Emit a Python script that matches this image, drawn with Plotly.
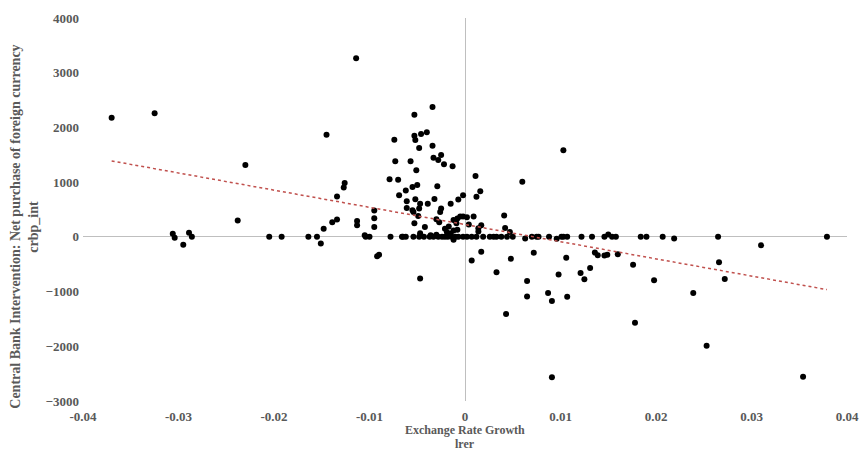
import numpy as np
import plotly.graph_objects as go

# Exchange rate growth (lrer) and central bank net purchases (crbp_int)
lrer_left = [-0.0370, -0.0325, -0.0306, -0.0304, -0.0295, -0.0289, -0.0286, -0.0238,
             -0.0230, -0.0205, -0.0192, -0.0164, -0.0155, -0.0151, -0.0148, -0.0145,
             -0.0139, -0.0134, -0.0134, -0.0127, -0.0126, -0.0114, -0.0113, -0.0113,
             -0.0105, -0.0104, -0.0100, -0.0095, -0.0095, -0.0095, -0.0092, -0.0090]
crbp_left = [2177, 2260, 55, -18, -146, 73, 0, 298,
             1314, 0, 0, 0, 0, -122, 146, 1867,
             268, 736, 316, 900, 985, 3266, 292, 213,
             30, 0, 0, 480, 341, 182, -353, -328]

lrer_mid = [-0.0034, -0.0053, -0.0074, -0.0053, -0.0052, -0.0046, -0.0040, -0.0048,
            -0.0034, -0.0073, -0.0057, -0.0033, -0.0028, -0.0025, -0.0022, -0.0013,
            -0.0051, -0.0079, -0.0070, 0.0011, 0.0060, 0.0103, -0.0029, -0.0055,
            -0.0050, -0.0062, -0.0069, -0.0061, -0.0052, -0.0032, -0.0061, -0.0055,
            -0.0054, -0.0048, -0.0047, -0.0039, -0.0025, -0.0026, -0.0015, -0.0007,
            -0.0002, 0.0012, 0.0016, -0.0049, -0.0053, -0.0042, -0.0030, -0.0027,
            -0.0012, -0.0008, -0.0005, -0.0002, 0.0002, 0.0009, 0.0004, -0.0009,
            -0.0017, -0.0021, -0.0047, -0.0008, -0.0012, 0.0017, 0.0014, 0.0014,
            0.0041, 0.0042, 0.0047, 0.0063, -0.0012, -0.0015, -0.0019, -0.0030,
            -0.0036]
crbp_mid = [2372, 2232, 1776, 1849, 1770, 1880, 1910, 1624,
            1666, 1381, 1381, 1447, 1405, 1496, 1326, 1290,
            1217, 1053, 1046, 1113, 1009, 1585, 925, 912,
            949, 845, 761, 651, 688, 693, 529, 487,
            456, 516, 607, 607, 516, 456, 607, 681,
            760, 735, 834, 383, 249, 182, 323, 268,
            310, 334, 370, 370, 359, 370, 225, 249,
            188, 146, 67, 128, 115, 213, 158, 97,
            389, 164, 91, -31, -55, 60, 90, 40,
            30]

lrer_zero = [-0.0078, -0.0066, -0.0065, -0.0062, -0.0054, -0.0048, -0.0043, -0.0037,
             -0.0033, -0.0028, -0.0024, -0.0021, -0.0018, -0.0014, -0.0010, -0.0007,
             -0.0002, 0.0002, 0.0007, 0.0012, 0.0019, 0.0026, 0.0030, 0.0033,
             0.0038, 0.0044, 0.0050, 0.0070, 0.0075, 0.0077, 0.0088, 0.0101,
             0.0103, 0.0107, 0.0122, 0.0133, 0.0146, 0.0154, 0.0158, 0.0184,
             0.0190, 0.0207, 0.0265, 0.0379, 0.0150, 0.0219, 0.0096]
crbp_zero = [0, 0, 0, 0, 0, 0, 0, 0,
             0, 0, 0, 0, 0, 0, 0, 0,
             0, 0, 0, 0, 0, 0, 0, 0,
             0, 0, 0, 0, 0, 0, 0, 0,
             0, 0, 0, 0, 0, 0, 0, 0,
             0, 0, 0, 0, 42, -29, -36]

lrer_neg = [0.0017, 0.0007, -0.0047, 0.0048, 0.0072, 0.0033, 0.0065, 0.0065,
            0.0043, 0.0310, 0.0106, 0.0136, 0.0139, 0.0146, 0.0149, 0.0160,
            0.0098, 0.0121, 0.0125, 0.0131, 0.0176, 0.0198, 0.0266, 0.0272,
            0.0087, 0.0091, 0.0107, 0.0239, 0.0178, 0.0253, 0.0091, 0.0354]
crbp_neg = [-274, -432, -761, -401, -290, -645, -809, -1089,
            -1411, -155, -380, -288, -336, -343, -325, -319,
            -686, -662, -776, -571, -511, -794, -464, -770,
            -1024, -1173, -1095, -1024, -1571, -1989, -2566, -2555]

x_ticks = [-0.04, -0.03, -0.02, -0.01, 0, 0.01, 0.02, 0.03, 0.04]
x_tick_text = ["-0.04", "-0.03", "-0.02", "-0.01", "0", "0.01", "0.02", "0.03", "0.04"]
y_ticks = [-3000, -2000, -1000, 0, 1000, 2000, 3000, 4000]

lrer = np.array(lrer_left + lrer_mid + lrer_zero + lrer_neg)
crbp = np.array(crbp_left + crbp_mid + crbp_zero + crbp_neg)

# Linear least-squares trendline across the observed range
slope, intercept = np.polyfit(lrer, crbp, 1)
trend_x = np.array([lrer.min(), lrer.max()])
trend_y = intercept + slope * trend_x

font_family = "Liberation Serif"
grey = "#595959"
tick_font = dict(family=font_family, size=13, color=grey, weight="bold")

fig = go.Figure()
fig.add_trace(go.Scatter(
    x=lrer, y=crbp, mode="markers",
    marker=dict(color="black", size=6, line=dict(width=0)),
    showlegend=False,
))
fig.add_trace(go.Scatter(
    x=trend_x, y=trend_y, mode="lines",
    line=dict(color="#c0504d", width=1.5, dash="dot"),
    showlegend=False,
))

fig.update_layout(
    width=859, height=455,
    margin=dict(l=83, r=12, t=18, b=54, autoexpand=False),
    paper_bgcolor="white", plot_bgcolor="white",
    font=dict(family=font_family, size=13, color=grey),
    xaxis=dict(
        range=[-0.04, 0.04], tickvals=x_ticks, ticktext=x_tick_text,
        showgrid=False, zeroline=True, zerolinecolor="#bfbfbf", zerolinewidth=1,
        showline=False, ticks="", tickfont=tick_font, automargin=False,
        ticklabelstandoff=6,
    ),
    yaxis=dict(
        range=[-3000, 4000], tickvals=y_ticks,
        showgrid=False, zeroline=True, zerolinecolor="#bfbfbf", zerolinewidth=1,
        showline=False, ticks="", tickfont=tick_font, automargin=False,
        ticklabelstandoff=3,
    ),
)

x_title_font = dict(family=font_family, size=12, color=grey, weight="bold")
y_title_font = dict(family=font_family, size=14, color=grey, weight="bold")
fig.add_annotation(text="Exchange Rate Growth", xref="paper", yref="paper",
                   x=0.5, y=-0.0757, showarrow=False, font=x_title_font,
                   xanchor="center", yanchor="middle")
fig.add_annotation(text="lrer", xref="paper", yref="paper",
                   x=0.5, y=-0.1123, showarrow=False, font=x_title_font,
                   xanchor="center", yanchor="middle")
fig.add_annotation(text="Central Bank Intervention: Net purchase of foreign currency",
                   xref="paper", yref="paper", x=-0.0877, y=0.455, textangle=-90,
                   showarrow=False, font=y_title_font, xanchor="center", yanchor="middle")
fig.add_annotation(text="crbp_int", xref="paper", yref="paper",
                   x=-0.0641, y=0.455, textangle=-90,
                   showarrow=False, font=y_title_font, xanchor="center", yanchor="middle")

fig.write_html("out.html")
